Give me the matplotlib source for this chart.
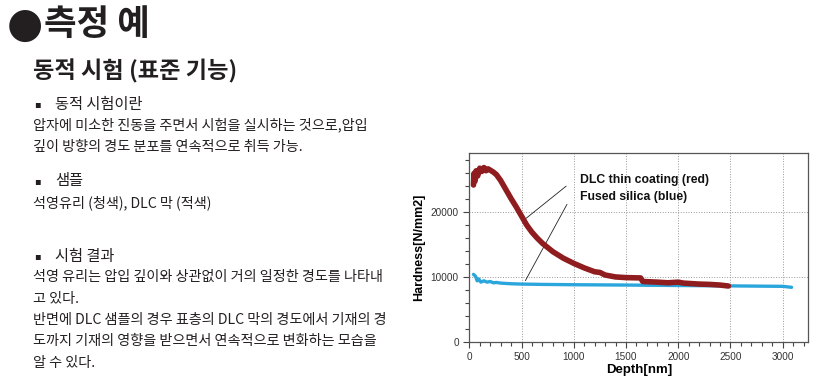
import matplotlib
matplotlib.use("Agg")
import matplotlib.pyplot as plt
from matplotlib.ticker import MultipleLocator

plt.rcParams['font.family'] = ['Noto Sans CJK KR', 'DejaVu Sans']

# --- chart data ---
dlc_depth = [40, 45, 55, 65, 80, 100, 120, 140, 160, 180, 200, 230, 260, 300,
             350, 400, 450, 500, 550, 600, 650, 700, 800, 900, 1000, 1100,
             1200, 1250, 1300, 1400, 1500, 1640, 1660, 1800, 1900, 2000,
             2050, 2100, 2200, 2300, 2400, 2480]
dlc_hard = [24200, 26000, 24800, 26400, 25600, 26800, 26300, 26900, 26400,
            26700, 26500, 26200, 25800, 24900, 23500, 22100, 20800, 19400,
            18000, 16900, 16000, 15200, 13900, 12900, 12100, 11400, 10800,
            10700, 10300, 10000, 9900, 9850, 9300, 9200, 9100, 9200, 9050,
            9000, 8900, 8850, 8750, 8600]

silica_depth = [40, 60, 75, 90, 110, 140, 170, 200, 230, 260, 300, 400, 500,
                700, 1000, 1500, 2000, 2500, 3000, 3085]
silica_hard = [10400, 10100, 9400, 9700, 9200, 9400, 9200, 9300, 9100, 9150,
               9050, 8950, 8900, 8850, 8800, 8750, 8680, 8620, 8550, 8400]

x_ticks = [0, 500, 1000, 1500, 2000, 2500, 3000]
y_ticks = [0, 10000, 20000]
label_dlc = "DLC thin coating (red)"
label_silica = "Fused silica (blue)"

# --- left side text ---
title = "측정 예"
subtitle = "동적 시험 (표준 기능)"
sections = [
    ("동적 시험이란", 104, ["압자에 미소한 진동을 주면서 시험을 실시하는 것으로,압입",
                       "깊이 방향의 경도 분포를 연속적으로 취득 가능."]),
    ("샘플", 181, ["석영유리 (청색), DLC 막 (적색)"]),
    ("시험 결과", 256, ["석영 유리는 압입 깊이와 상관없이 거의 일정한 경도를 나타내",
                     "고 있다.",
                     "반면에 DLC 샘플의 경우 표층의 DLC 막의 경도에서 기재의 경",
                     "도까지 기재의 영향을 받으면서 연속적으로 변화하는 모습을",
                     "알 수 있다."]),
]

W, H = 836, 382
fig = plt.figure(figsize=(W / 100, H / 100), dpi=100)
txt_col = '#231f20'

def fy(y):
    return 1 - y / H

fig.text(24.5 / W, fy(25), "●", fontsize=30, color=txt_col, va='center', ha='center',
         family=['DejaVu Sans'])
fig.text(44 / W, fy(25), title, fontsize=25.5, fontweight='bold', color=txt_col, va='center')
fig.text(33 / W, fy(71), subtitle, fontsize=16.7, fontweight='bold', color=txt_col, va='center')
line_gap = 21.3
for head, y, lines in sections:
    fig.text(34 / W, fy(y), "▪", fontsize=7, color=txt_col, va='center',
             family=['DejaVu Sans'])
    fig.text(55 / W, fy(y), head, fontsize=11, color=txt_col, va='center')
    for i, ln in enumerate(lines):
        fig.text(33 / W, fy(y + line_gap * (i + 1)), ln, fontsize=10.2,
                 color=txt_col, va='center')

# --- chart ---
narrow = ['Liberation Sans Narrow', 'Liberation Sans', 'DejaVu Sans']
ax = fig.add_axes([469.3 / W, 1 - 341.7 / H, 339 / W, 188.4 / H])
ax.plot(silica_depth, silica_hard, color='#2aa6dc', lw=2.4, solid_capstyle='round', zorder=3)
ax.plot(dlc_depth, dlc_hard, color='#8f1c1e', lw=4.0, solid_capstyle='round', zorder=4)

ax.set_xlim(0, 3245)
ax.set_ylim(0, 29100)
ax.set_xticks(x_ticks)
ax.set_yticks(y_ticks)
ax.xaxis.set_minor_locator(MultipleLocator(100))
ax.yaxis.set_minor_locator(MultipleLocator(2000))
ax.tick_params(which='both', direction='out', color='#444444', width=0.8,
               labelsize=7.2, labelcolor='#333333')
ax.tick_params(which='major', length=4)
ax.tick_params(which='minor', length=3)
for lab in ax.get_xticklabels() + ax.get_yticklabels():
    lab.set_family(narrow)
ax.grid(True, which='major', linestyle=':', color='#999999', lw=0.7)
for s in ax.spines.values():
    s.set_color('#555555')
    s.set_linewidth(0.9)

ax.set_xlabel("Depth[nm]", fontsize=9.5, fontweight='bold', family=narrow, labelpad=1)
ax.set_ylabel("Hardness[N/mm2]", fontsize=9, fontweight='bold', family=narrow, labelpad=4)

ax.annotate("", xy=(524, 18800), xytext=(948, 24300),
            arrowprops=dict(arrowstyle='-', color='#222222', lw=0.6))
ax.annotate("", xy=(524, 9050), xytext=(948, 21600),
            arrowprops=dict(arrowstyle='-', color='#222222', lw=0.6))
ax.text(1063, 25000, label_dlc, fontsize=8.8, fontweight='bold', family=narrow,
        color='#111111', va='center')
ax.text(1063, 22300, label_silica, fontsize=8.8, fontweight='bold', family=narrow,
        color='#111111', va='center')

fig.savefig("out.png", dpi=100)
